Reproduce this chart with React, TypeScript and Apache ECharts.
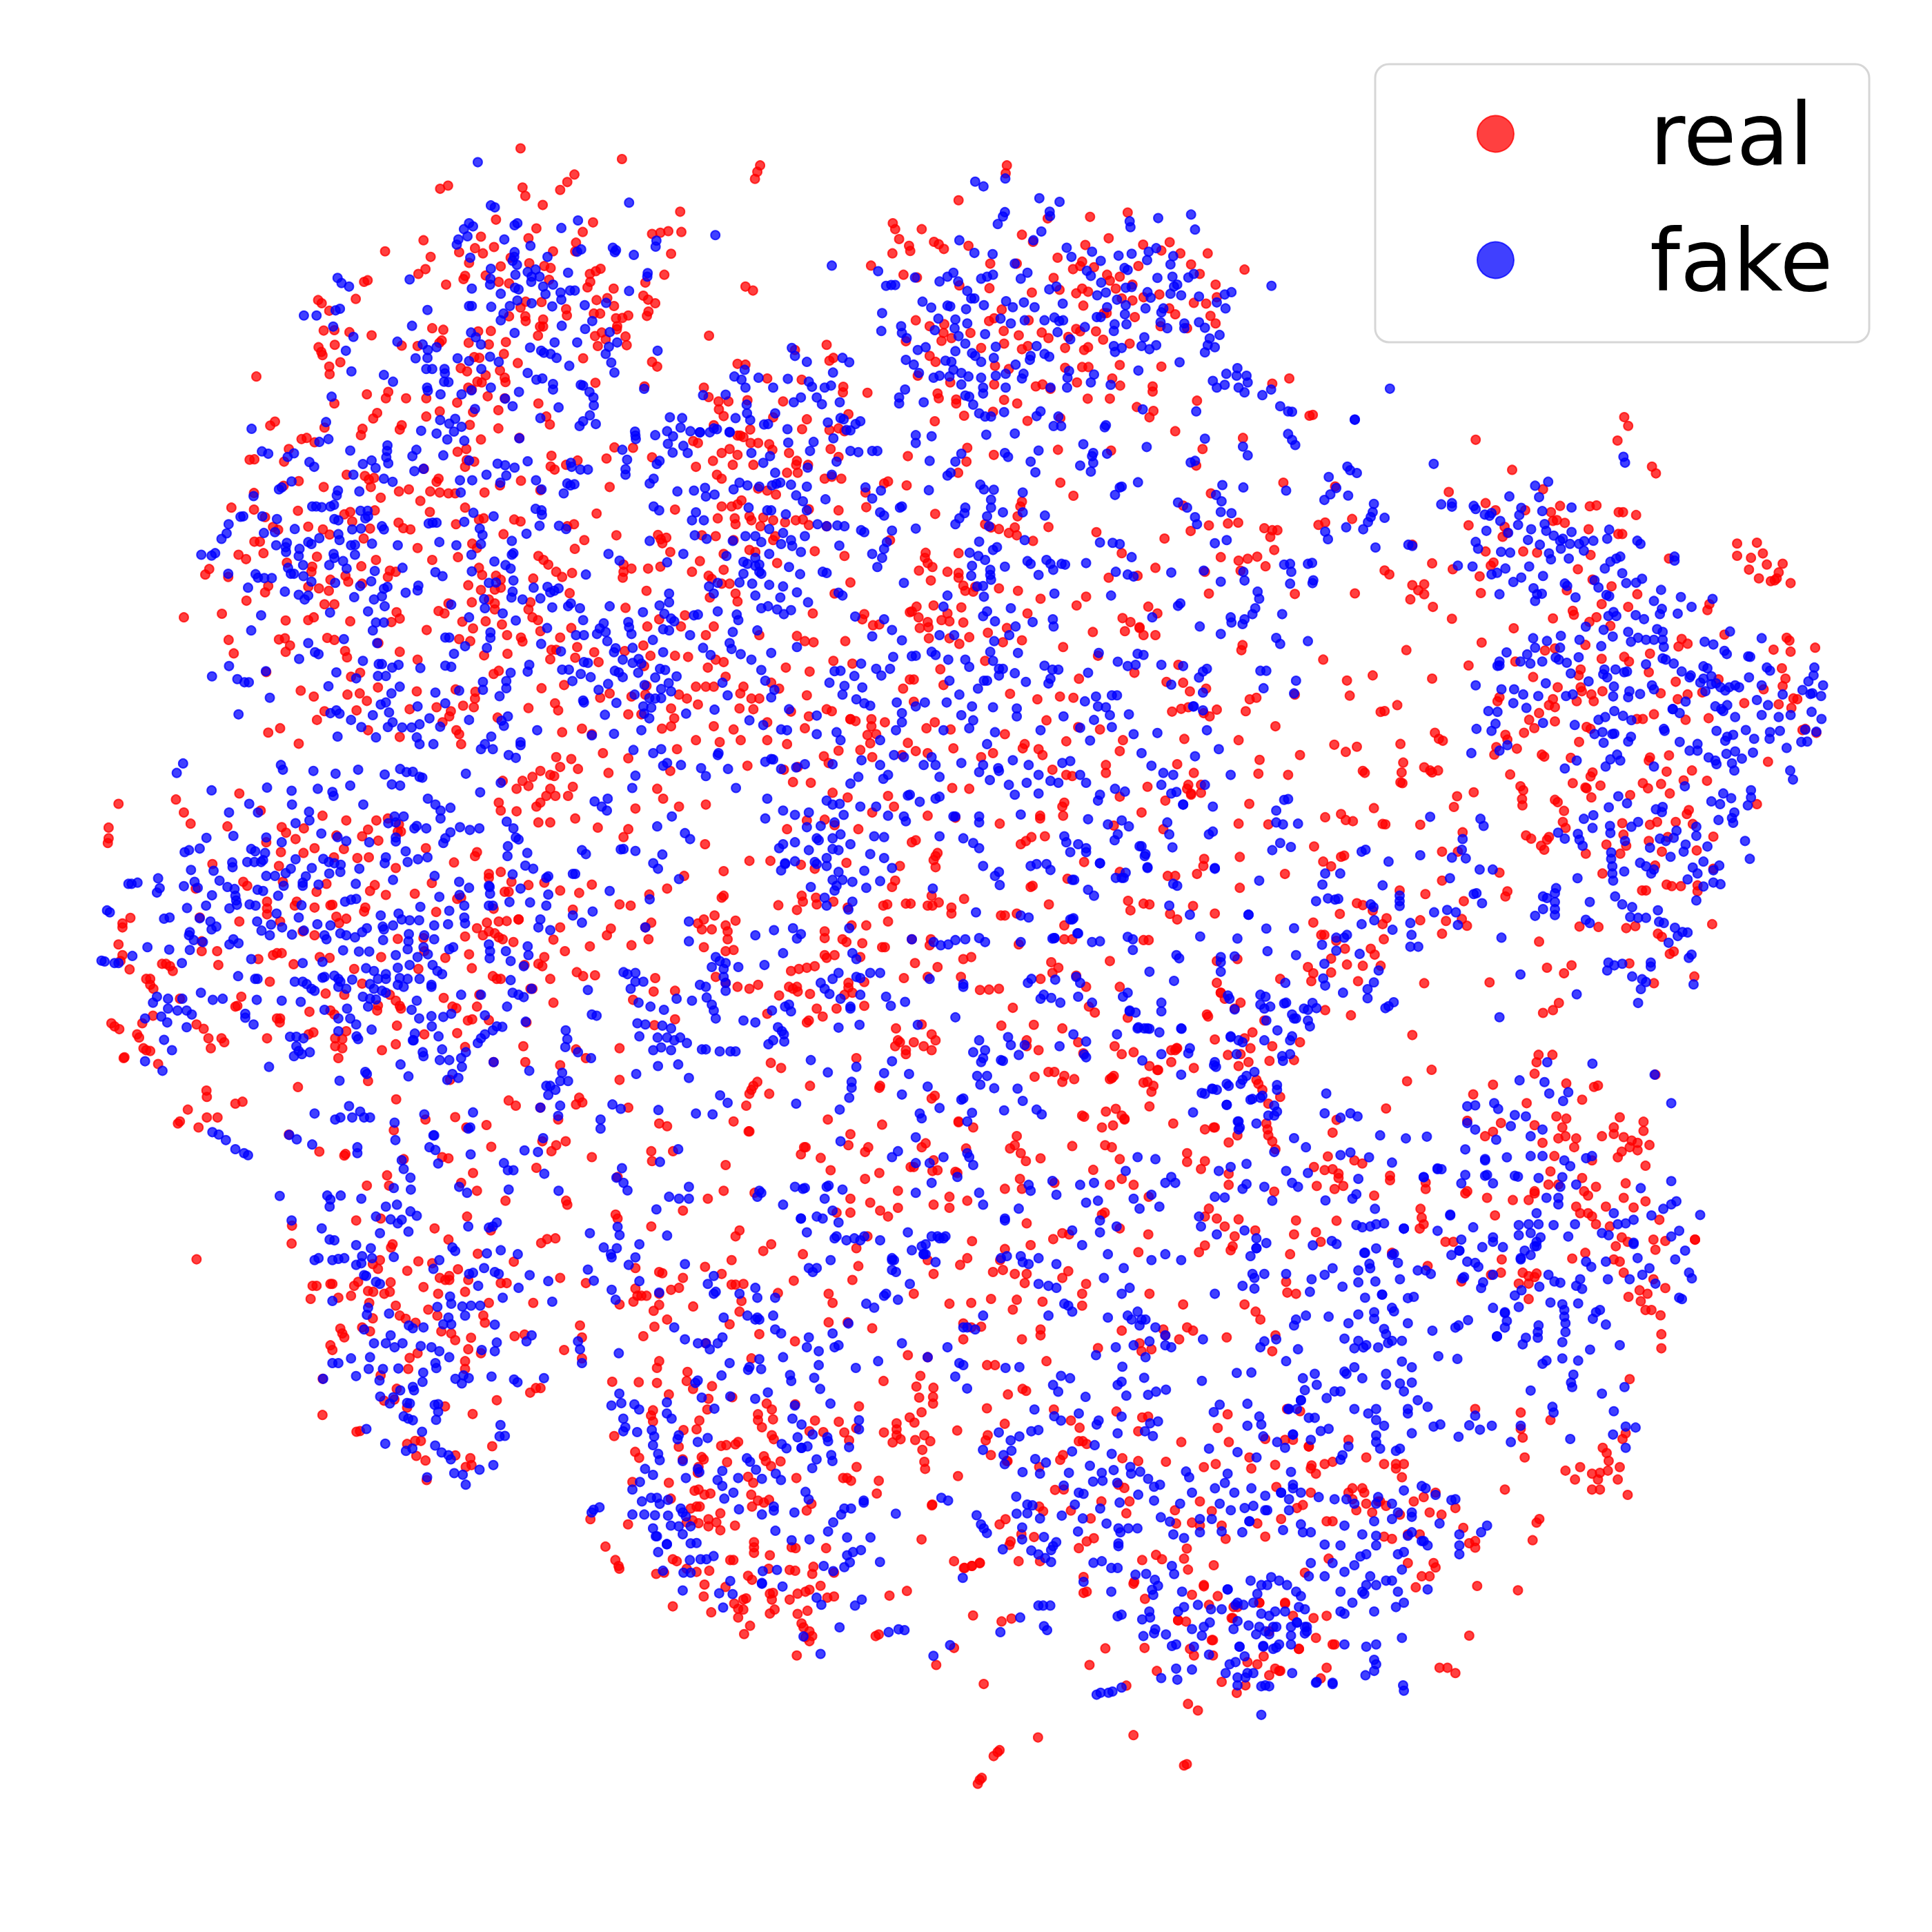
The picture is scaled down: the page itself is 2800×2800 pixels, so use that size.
import React, { useEffect, useRef } from "react";
import * as echarts from "echarts";

// Hand-read subset of the reference's dots. Each list is read off one enlarged crop of the
// picture, as flat x,y pairs in that crop's own units; see cropFrames for how they line up.
const realA = [1140,61,1396,88,937,163,957,155,1145,160,1152,181,1258,146,1276,127,1240,166,1196,204,1543,221,1078,241,1323,248,1180,263,1472,277,1493,274,1513,270,1546,272,1297,272,1040,284,1160,288,895,293,1280,299,798,321,913,335,1073,310,1025,313,985,323,1045,326,1222,321,1278,321,1520,327,1010,350,1115,337,1162,351,1090,359,1200,358,1216,363,900,366,882,378,1052,382,1000,383,996,391,745,398,754,394,952,405,1085,398,1111,402,1342,365,1330,371,1315,378,1316,398,1309,412,1375,415,1503,380,1455,400,1212,393,629,444,638,452,724,441,657,471,1450,433,1462,443,1480,452,1332,444,1359,439,1376,459,1193,449,1153,448,1140,463,1255,467,1257,483,1325,478,1341,478,1152,485,1153,497,1197,493,1111,485,1463,473,1459,484,1412,483,1397,489,1381,490,1384,510,1383,518,1189,511,1197,511,1184,534,643,521,670,520,708,525,764,533,917,515,945,519,1033,523,1065,522,1328,535,1345,526,1355,543,1335,560,1405,536,1408,558,935,552,941,546,880,560,840,559,1009,552,1060,556,1103,550,630,563,637,575,640,583,671,557,685,601,657,612,658,631,1023,588,1036,590,1098,580,1133,603,1298,591,1472,600,1485,612,989,616,1005,624,1088,622,1100,640,1052,634,1102,651,1031,650,1042,652,1008,665,1017,670,1329,653,1453,662,473,637,806,676,752,682,800,692,851,692,902,692,1057,687,1100,692,670,705,980,703,1185,705,778,729,768,743,936,725,902,738,1084,722,1020,727,1205,738,1214,758,1012,759,1084,768,520,751,508,761,840,760,835,771,741,769,737,785,645,766,587,795,600,792,620,803,1040,796,555,820,981,827,1003,820,1137,792,1377,816,1424,817,1218,837,1472,841,1023,852,1004,848,1000,865,456,847,468,846,543,852,1284,849,1357,844,1216,864,1226,872,1255,860,896,870,701,885,747,888,770,893,757,897,933,895,928,903,580,901,542,913,643,916,762,916,1141,900,1365,916,1088,912,1190,924,467,931,858,922,833,927,912,927,936,930,958,932,975,932,1049,930,887,951,787,943,410,968,467,973,578,976,695,985,710,979,772,975,911,979,1000,968,1332,983,1530,973,495,992,715,1003,1047,995,1035,998,1124,998,1140,1003,1275,1010,1258,1015,515,1017,528,1024,604,1016,641,1023,760,1021,832,1006,844,1020,862,1023,977,1010,1382,1038,1097,1035,1487,1037,1494,1048,1508,1044,658,1036,744,1046,468,1054,482,1054,1301,1050,1277,1072,1018,1059,1498,1058,428,1087,447,1098,491,1083,626,1092,880,1070,1030,1070,1518,1080,917,1100,982,1093,775,1100,1185,1090,1198,1100,1210,1112,1400,1112,1420,1122,1462,1122,1493,1117,1400,1130,1398,1145,1230,1130,1245,1143,1270,1133,1172,1147,354,1123,344,1137,402,1143,550,1107,614,1117,612,1130,738,1116,810,1127,825,1130,805,1143,1035,1120,1043,1138,1078,1140,1090,1150,698,1140,660,1150,705,1155,740,1160,1008,1164,1040,1176,1075,1175,1090,1170,604,1168,631,1172,656,1178,495,1182,503,1166,448,1203,1264,1184,1458,1178,1060,1200,1075,1210,1017,1207,670,1212,645,1212,958,1210,1165,1207,1160,1225,1075,1225,1405,1221,290,1245,386,1236,547,1253,604,1252,618,1245,710,1255,827,1232,835,1248,933,1229,948,1235,993,1256,1052,1255,1170,1245,1184,1252,1490,1250,1555,1240,1093,1263,1020,1273,1190,1280,1268,1272,1240,1296,1460,1268,1545,1268,903,1277,814,1257,1141,1296,1145,1306,985,1300,1013,1305,1106,1290,403,1302,530,1301,545,1298,558,1316,652,1297,670,1302,781,1310,1450,1316,416,1336,547,1332,697,1330,835,1332,702,1346,880,1352,1048,1341,1107,1337,1218,1327,1230,1327,1283,1320,1278,1347,1215,1351,1326,1333,1337,1358,1403,1330,1468,1342,1530,1342,1563,1345,1085,1380,1072,1388,735,1385,712,1395,498,1383,1452,1368,1458,1418,1193,1424,1250,1416,780,1422,585,1430,618,1445,703,1440,734,1437,878,1432,976,1427,1026,1433,1025,1450,752,1456,1341,1448,1365,1437,1420,1445,1455,1440,1540,1440,1560,1450,1227,1462,1160,1474,1235,1480,995,1468,1022,1472,860,1477,928,1472,964,1482,645,1482,726,1480,1412,1490,1445,1490,1520,1475,1528,1500,626,1504,1082,1498,943,1510,960,1495,533,1525,503,1536,1245,1535,1295,1526,1497,1526,1520,1520,978,1530,985,1540,755,1530,835,1547,580,1564,990,1565,1320,1540];
const fakeA = [1032,96,1065,205,1075,210,1414,198,1010,250,1020,258,997,265,1125,255,1132,250,1243,262,1285,243,1006,283,983,291,979,304,1099,291,1165,307,1373,312,1381,318,1378,323,1483,294,1481,309,1426,330,1293,316,1283,322,1125,323,1124,335,1013,337,1208,335,1120,345,1131,355,1065,365,1158,373,1178,367,1168,385,1127,380,1188,385,1260,375,1461,376,1460,385,1064,390,1063,405,1017,415,1167,398,1197,410,1222,405,860,392,678,388,688,401,707,410,1126,413,1135,417,1090,428,1203,429,1241,425,1265,420,1277,420,1414,421,1243,443,1132,445,1168,452,1356,451,1220,460,1302,457,1010,459,1017,459,1066,461,1113,459,905,469,1097,478,1090,495,1321,497,1244,509,684,466,673,470,593,483,625,483,667,511,1303,517,866,509,718,537,1015,526,1027,538,1125,527,1365,525,1363,562,1384,551,829,549,893,556,1040,556,1226,551,1283,551,906,570,928,563,1164,564,1192,572,1199,577,1216,580,1231,590,699,572,875,591,905,590,981,591,1010,598,1063,587,1085,600,1355,580,1369,602,1486,572,1263,610,713,624,902,618,917,618,948,618,949,629,947,650,958,651,1041,618,795,633,818,650,1158,628,1180,645,1195,642,1377,627,1065,665,904,665,906,673,1222,656,1222,670,1292,658,1298,660,1016,672,1136,676,938,682,991,682,1314,676,1324,690,1452,668,663,688,1101,693,1325,710,1120,712,1236,715,1025,719,937,747,649,752,960,756,975,744,991,764,972,776,1315,735,1298,750,1289,762,1330,757,1190,742,889,774,928,781,955,796,998,799,461,769,655,795,632,802,1137,793,804,811,803,825,801,841,806,856,877,822,867,838,945,836,710,824,487,826,503,832,568,831,552,840,607,853,619,865,764,849,742,858,774,868,1010,849,1082,857,1101,861,1125,867,1158,851,1267,855,1269,865,1291,872,1310,872,1409,847,1405,871,1405,885,1484,858,1491,850,872,876,895,870,718,885,795,895,817,903,1054,885,1104,887,1089,905,987,899,1018,899,1179,899,1193,922,1258,907,1276,909,1266,912,1476,895,1466,907,562,902,530,922,537,917,679,925,676,937,733,927,989,930,1249,932,1536,927,466,939,1548,742,1517,740,1510,775,1544,766,1429,776,1430,786,1431,795,1480,785,1525,788,1512,807,1551,812,1562,830,1524,829,1397,822,614,965,624,965,638,967,660,965,669,961,736,976,754,976,748,995,755,990,1178,971,1193,975,1194,986,1021,981,433,991,440,990,488,990,525,997,670,997,680,1000,1072,990,1476,965,1490,975,403,1010,398,1033,385,1047,570,1022,918,1006,908,1008,928,1006,998,1004,1188,1014,1237,1014,1255,1022,492,1032,520,1030,632,1045,715,1023,737,1021,795,1023,790,1015,1037,1021,1044,1037,1155,1034,680,1035,683,1050,550,1057,523,1063,547,1068,548,1080,604,1055,612,1060,712,1063,722,1062,765,1059,830,1063,935,1055,978,1063,1040,1060,1118,1052,1466,1052,1362,1085,334,1087,360,1089,369,1083,582,1072,580,1090,668,1085,722,1087,1016,1087,1122,1083,1118,1087,1551,1085,657,1113,670,1095,692,1103,1390,1102,1510,1106,591,1113,553,1120,701,1122,842,1120,1074,1104,1102,1113,1115,1122,560,1135,1017,1129,772,1128,925,1131,943,1141,402,1135,471,1136,477,1145,493,1146,512,1146,568,1135,592,1141,1305,1137,612,1155,672,1158,763,1154,1060,1158,1078,1157,1122,1152,452,1170,545,1180,804,1168,882,1165,880,1177,850,1183,1173,1170,1120,1180,1208,1168,1215,1182,1225,1178,1236,1172,580,1188,604,1190,595,1200,720,1194,735,1166,1515,1185,795,1173,790,1192,770,1200,1048,1199,1117,1195,1190,1197,1145,1200,1515,1207,797,1217,1365,1217,1491,1215,1449,1232,1260,1217,1267,1210,1290,1222,1220,1220,755,1230,659,1233,485,1240,965,1213,1050,1222,1095,1235,1128,1253,1010,1245,1503,1236,1520,1248,1528,1255,1298,1252,1350,1260,1412,1257,1414,1270,460,1278,775,1258,795,1258,767,1278,1064,1283,1064,1297,1207,1272,1340,1273,1333,1287,1355,1282,1515,1278,1500,1275,1420,1287,1300,1290,1280,1290,950,1296,960,1296,1474,1302,604,1310,694,1300,778,1310,1359,1305,1000,1318,1055,1322,1192,1312,1380,1323,1423,1322,1438,1350,1376,1333,1500,1333,1242,1331,1568,1290,621,1333,630,1338,972,1337,1300,1358,1310,1360,1398,1352,1423,1360,1445,1362,581,1350,742,1355,782,1363,790,1363,832,1365,950,1367,965,1370,887,1373,1162,1365,1158,1382,404,1368,1245,1377,1262,1377,1292,1388,1505,1378,1492,1375,1378,1380,1388,1384,1437,1385,497,1381,675,1384,780,1393,800,1393,816,1372,1115,1385,1317,1396,1398,1396,1534,1394,361,1394,425,1401,443,1409,454,1409,725,1399,1045,1408,1104,1406,1271,1406,1480,1397,1361,1413,1514,1411,1453,1416,655,1419,835,1420,1104,1424,1045,1428,1495,1426,1337,1428,814,1437,925,1435,985,1430,1520,1432,1087,1444,1428,1440,1465,1449,1495,1449,1480,1450,507,1448,950,1462,1298,1455,1300,1460,1382,1461,800,1460,787,1465,880,1470,1450,1470,1470,1473,675,1480,660,1487,683,1488,808,1485,767,1492,428,1490,1353,1491,1108,1495,910,1500,1452,1488,1465,1500,712,1504,1010,1504,1558,1488,1092,1506,1098,1519,817,1510,885,1515,805,1522,841,1523,865,1523,738,1522,937,1521,1182,1530,1376,1539,1445,1530,678,1546,775,1548,878,1548,1066,1546,1320,1543,885,1565,920,1565,1140,1560,1050,1565];
const realB = [177,104,170,120,164,138,800,104,797,124,678,192,140,410,159,420,48,534,512,250,518,265,528,290,585,265,616,297,628,303,641,315,553,307,556,320,511,326,457,357,539,380,1105,223,1010,234,903,238,838,279,866,297,703,307,1057,288,998,305,1144,304,1211,298,1190,319,1238,326,1307,326,928,337,990,347,1020,361,967,366,1265,354,985,358,825,352,758,352,1132,358,1053,380,1085,385,1400,367,573,387,918,388,1287,378,1060,395,1327,405,680,407,756,414,990,415,1005,423,975,427,933,418,863,425,1117,405,1075,415,1090,440,1117,445,1145,437,1185,430,1330,437,1272,451,1303,453,993,458,787,468,1210,465,1225,480,1314,484,1052,477,1123,487,570,495,755,497,768,490,855,495,1045,477,605,510,1327,503,1188,510,642,505,1255,515,640,527,635,547,660,540,708,527,792,522,830,533,975,517,985,523,1025,523,888,526,905,540,955,537,1043,544,1110,554,545,548,793,554,735,565,838,568,853,560,947,565,995,570,1005,563,345,557,265,570,120,605,140,607,352,597,362,590,605,585,620,600,770,610,805,618,947,615,990,613,1006,613,1085,608,1190,612,195,642,282,645,575,635,657,652,768,657,873,662,890,657,910,668,977,652,1066,642,1086,660,1168,662,1168,675,1470,655,1513,642,35,665,47,689,387,663,386,677,448,678,625,680,628,692,672,695,672,705,793,696,826,705,1004,693,1060,693,1280,698,1128,714,1170,724,1160,740,72,700,97,700,145,697,73,720,235,700,85,737,60,760,400,732,618,750,692,736,765,726,852,749,935,742,1225,775,1564,736,210,740,295,745,283,770,352,772,375,768,127,786,152,771,120,786,135,790,390,775,8,800,153,805,172,805,200,808,20,805,208,822,700,817,550,838,767,835,698,852,1063,824,929,822,1294,820,1396,792,355,820,375,840,80,830,100,820,120,835,58,850,108,860,160,860,250,830,270,850,268,860,298,860,245,880,272,880,15,865,340,895,358,890,382,895,68,885,80,895,677,880,1278,862,935,905,968,938,1498,905,490,907,500,902,547,912,172,920,217,935,443,930,445,967,1315,932,195,925,80,965,105,965,120,960,130,950,155,1000,150,990,300,972,375,975,619,984,838,953,834,965,827,990,1245,963,70,995,113,995,115,1010,185,993,210,1000,240,1005,267,1000,285,998,300,1012,345,1015,178,1015,30,1038,65,1040,110,1050,215,1040,210,1050,745,1010,760,1018,780,1022,805,1032,825,1038,820,1018,866,1052,905,1017,1026,1030,1198,1046,1264,1027,1310,1013,1358,1008,1384,1006,1450,1020,1470,1025,1483,1025,1465,1042,150,1075,165,1080,85,1085,25,1103,5,1130,220,1108,315,1078,390,1090,505,1050,595,1082,593,1095,600,1108,612,1118,678,1083,1090,1083,1175,1120,1340,1093,1385,1102,1408,1097,1432,1092,1453,1116,1475,1075,85,1125,47,1140,55,1148,80,1160,100,1160,578,1127,650,1130,678,1133,678,1145,690,1165,715,1180,608,1152,1057,1145,1130,1140,1300,1130,1390,1127,405,1157,115,1185,50,1195,695,1178,720,1168,780,1172,828,1178,885,1198,1000,1193,1310,1185,1527,1186,365,1185,120,1205,310,1235,560,1230,572,1218,615,1215,555,1232,577,1245,600,1257,602,1270,635,1252,650,1235,655,1255,690,1258,685,1220,852,1235,976,1215,1092,1247,1112,1257,1135,1270,1157,1218,1180,1235,440,1237,435,1250,462,1265,478,1263,40,1290,60,1268,175,1290,270,1292,290,1305,312,1308,392,1305,580,1272,603,1298,655,1298,680,1312,705,1295,752,1284,790,1308,838,1303,800,1272,1017,1282,1098,1280,1135,1272,1145,1290,1175,1290,942,1320,1395,1315,1392,1328,45,1372,65,1352,85,1358,242,1372,302,1382,362,1355,410,1362,632,1376,745,1355,1030,1342,1233,1365,1122,1385,15,1420,40,1420,60,1420,90,1395,135,1420,127,1437,155,1450,175,1450,205,1410,225,1425,295,1442,640,1416,538,1425,555,1402,565,1402,808,1438,877,1452,934,1445,968,1448,982,1400,1203,1408,1245,1410,1303,1425,1262,1432,1413,1452,1430,1448,1527,1440,20,1465,125,1475,160,1477,345,1477,358,1482,300,1495,405,1502,418,1507,458,1502,492,1510,458,1520,565,1458,618,1510,1217,1483,1240,1476,1258,1472,1330,1478,1297,1487,1312,1495,60,1520,110,1528,195,1510,255,1483,290,1525,405,1502,448,1542,470,1540,597,1525,658,1528,795,1540,900,1505,980,1522,1035,1528,1403,1482,1478,1520,1093,1555,1248,1552,1385,1555,15,1555,75,1560,128,1555,195,1555,245,1565,455,1563,550,1562,845,1565,950,1558];
const fakeB = [64,280,358,357,720,145,741,157,796,137,882,187,933,196,908,221,909,232,795,222,790,233,777,252,887,271,1110,245,1112,260,1182,237,1265,228,1275,266,867,293,680,293,718,325,764,328,951,312,963,335,1015,322,1037,345,1082,332,1115,327,1154,343,1158,322,1177,313,1220,333,1213,354,820,352,852,375,475,371,665,375,650,385,630,397,677,397,568,387,735,390,750,385,765,380,835,390,1002,370,1012,383,1097,363,1105,368,1180,388,1218,385,1258,387,1272,378,1230,405,495,408,508,406,518,406,700,421,907,417,925,410,1038,400,1028,432,1050,425,1100,413,1115,411,1155,424,1163,438,1213,428,1222,410,1240,432,1285,435,1330,450,1350,430,1367,424,1352,465,1468,408,710,440,718,440,1078,443,587,448,609,463,650,458,657,460,697,467,742,457,798,447,843,450,815,462,870,462,941,453,1150,465,1100,457,1195,465,1190,475,1053,462,485,477,627,491,784,491,670,493,700,503,810,503,845,495,895,495,920,488,932,497,942,495,1027,487,1037,487,1188,500,1098,480,1072,505,1102,505,1205,515,1248,503,1248,515,1285,500,1300,514,618,520,668,515,678,535,745,530,483,522,533,510,535,527,547,540,997,512,1070,522,928,525,1337,532,960,543,1312,541,1147,538,575,570,595,563,695,554,772,562,712,578,720,585,875,560,860,585,895,580,907,587,1073,575,1090,565,1140,560,1160,568,1177,558,1070,560,1307,558,1300,576,1325,563,670,573,660,600,735,600,767,590,645,597,858,595,545,595,565,607,578,628,665,620,685,628,703,637,822,607,1236,601,1132,622,1354,630,1382,616,1320,648,1380,635,1405,635,1408,652,1330,665,1350,658,1385,665,1400,677,630,635,615,640,655,637,772,635,735,640,797,630,842,630,838,642,957,623,1020,632,953,640,952,665,1012,652,1062,658,257,565,265,585,295,600,385,590,402,601,361,627,685,657,740,665,797,665,910,665,543,670,705,688,740,680,695,685,528,690,528,705,590,702,715,708,730,730,760,738,745,738,793,727,1445,684,1467,670,138,620,112,637,173,640,130,645,140,665,210,665,247,643,300,650,308,663,340,665,356,660,33,684,90,683,280,690,320,690,262,702,333,707,378,702,143,708,215,730,144,730,115,742,152,747,68,770,25,778,100,777,187,758,197,757,246,770,348,753,380,742,388,745,430,750,418,757,405,773,395,772,362,793,303,825,312,802,248,804,155,830,185,855,202,838,370,852,358,885,297,867,1490,712,1520,726,1510,725,1143,720,1278,725,875,737,885,725,930,738,918,762,937,762,1050,760,1047,765,570,785,610,788,570,805,748,784,820,781,1510,782,1520,797,1528,810,1300,794,993,808,795,830,803,840,605,850,685,832,670,852,860,852,880,824,1153,815,1018,830,1015,838,1018,855,985,862,1012,877,1053,832,1396,814,1408,836,1264,854,1275,850,872,879,650,887,658,880,1,775,25,778,50,778,100,778,60,768,405,825,425,828,460,825,473,825,215,880,125,905,145,912,175,915,207,912,218,908,228,905,255,910,10,925,38,918,62,935,110,922,295,915,1085,917,1090,915,1131,904,1344,911,1397,917,1505,925,443,917,603,924,733,910,742,922,767,923,1073,936,1328,936,1342,952,40,940,460,945,482,925,840,930,268,937,285,952,342,947,148,968,535,965,530,968,760,948,760,968,695,968,693,982,1232,955,1255,968,1340,979,1367,982,1275,992,1280,1010,15,980,35,1000,5,1000,205,975,195,975,242,985,295,975,480,980,490,988,680,995,670,1010,790,980,840,980,896,988,750,990,755,1015,440,1030,432,1025,510,1026,570,1021,322,1010,345,1015,372,1013,390,1015,140,1040,165,1040,200,1022,235,1032,255,1050,290,1040,12,1038,42,1047,108,1052,180,1055,230,1060,258,1065,377,1064,497,1055,490,1072,845,1050,1035,1056,1067,1057,1085,1060,1355,1050,1325,1058,730,1054,765,1075,775,1068,92,1090,200,1085,280,1080,165,1095,175,1112,460,1085,485,1095,473,1118,706,1082,728,1090,745,1100,758,1125,712,1115,795,1117,852,1103,860,1110,900,1100,910,1110,917,1125,938,1110,947,1112,880,1138,1000,1108,1115,1093,1500,1112,1515,1110,1560,1110,135,1105,145,1110,165,1115,175,1130,180,1135,135,1135,125,1157,157,1160,278,1136,335,1130,345,1133,250,1118,710,1140,758,1138,760,1150,725,1167,740,1166,742,1193,1075,1130,1105,1137,1120,1142,1215,1132,1297,1127,1340,1155,1400,1152,1515,1160,1518,1130,1397,1130,48,1167,70,1158,60,1185,200,1163,235,1167,270,1182,165,1190,228,1195,540,1158,640,1218,375,1183,385,1190,920,1185,1063,1190,1433,1180,1437,1198,1238,1210,1232,1216,180,1222,197,1217,220,1225,237,1237,255,1227,298,1207,10,1240,20,1238,70,1230,118,1238,122,1252,417,1243,490,1250,650,1190,740,1242,770,1255,750,1230,810,1222,865,1257,916,1250,918,1268,1167,1245,1365,1245,1367,1258,1395,1262,1400,1250,1427,1222,1420,1237,1495,1237,108,1282,170,1278,510,1277,460,1293,630,1290,667,1290,822,1268,806,1290,1340,1287,1287,1268,535,1303,768,1305,100,1310,105,1325,128,1338,33,1322,52,1340,155,1352,205,1335,270,1320,570,1342,560,1343,513,1345,610,1332,620,1340,652,1352,758,1332,828,1335,1032,1335,1130,1337,1145,1340,1480,1297,1490,1312,1560,1305,180,1378,380,1380,365,1381,432,1362,415,1393,470,1375,505,1375,695,1352,705,1370,765,1355,780,1375,790,1375,820,1386,780,1392,895,1367,915,1377,930,1377,1005,1385,1080,1357,1105,1368,1125,1365,1190,1365,1245,1368,1305,1375,1285,1397,1295,1382,1440,1380,1455,1380,82,1410,190,1405,213,1428,205,1447,352,1410,390,1418,435,1422,483,1392,655,1405,727,1425,742,1405,750,1405,848,1408,905,1412,910,1400,1215,1415,1530,1405,1448,1424,1295,1435,1525,1437,62,1478,95,1442,250,1477,385,1440,420,1452,440,1462,455,1468,522,1460,593,1460,570,1470,648,1460,680,1440,712,1470,765,1472,825,1475,997,1457,1025,1445,1065,1442,1078,1442,1030,1470,1050,1472,1270,1470,1295,1480,1108,1490,535,1487,150,1505,185,1517,230,1528,320,1493,535,1510,685,1492,715,1505,825,1495,943,1495,1020,1504,1060,1492,1272,1470,320,1540,370,1535,380,1555,245,1530,520,1530,705,1525,770,1535,885,1530,985,1524,1065,1522,1120,1540,1180,1537,1305,1530,750,1565,480,1555,640,1530,1010,1556];
const realD = [590,65,948,67,965,8,975,30,682,141,1035,133,1045,150,235,183,522,197,760,190,615,225,640,243,715,243,803,232,878,233,895,231,951,248,962,248,995,255,780,248,795,268,815,275,785,270,572,281,210,274,193,280,278,265,55,288,68,292,87,295,70,309,663,285,670,300,658,310,875,291,950,303,960,303,1250,327,1300,325,1315,352,1250,358,710,347,745,350,615,347,635,375,628,383,880,356,1285,363,1325,380,1365,378,430,330,82,344,40,362,15,367,60,385,360,395,372,405,480,377,532,392,848,392,1078,365,1280,393,1355,400,1350,415,1345,420,1305,415,1335,422,1385,427,600,410,885,418,933,435,820,445,460,430,430,432,445,445,460,455,285,453,135,456,603,452,998,455,425,468,482,487,530,517,1175,495,1180,480,908,480,975,487,835,497,838,507,785,516,877,525,895,513,930,535,686,541,1110,568,1218,557,1125,580,1102,587,605,577,1375,565,1382,572,1342,595,1385,600,1447,590,415,596,205,620,137,630,765,597,790,592,867,583,965,613,977,625,1030,605,908,618,690,625,572,635,330,660,480,668,265,673,735,664,855,645,850,660,1027,652,1095,676,1363,642,1372,668,1317,695,1365,687,797,690,855,690,858,700,882,708,910,700,1057,705,1203,670,272,711,135,711,22,722,40,718,650,715,645,725,785,720,775,735,790,740,845,725,888,725,1125,708,1162,703,1100,720,1392,718,1402,720,1355,733,1387,742,1268,730,350,752,360,750,392,735,10,755,750,755,725,772,738,793,790,776,1040,758,1012,770,997,770,1120,772,1178,768,1415,798,1422,795,1450,805,83,788,870,790,880,795,712,805,665,810,670,822,487,805,497,820,507,825,163,833,233,835,262,853,290,840,400,833,150,858,642,841,637,860,694,845,851,828,757,860,763,865,830,868,1030,867,1027,875,1078,862,1328,878,44,873,40,908,305,901,310,906,407,880,403,905,400,930,405,932,460,892,475,900,480,905,495,900,116,912,835,932,870,945,885,905,880,915,905,938,867,943,1012,932,1025,945,1058,934,1072,903,1136,900,1174,926,1115,925,677,910,703,940,710,950,707,972,708,988,18,985,543,965,535,992,585,955,790,974,797,980,882,968,980,962,1080,958,1300,985,813,1002,210,1018,250,1010,262,1025,280,1028,333,995,65,1038,355,1035,362,1036,450,1037,810,1030,960,1033,1030,1037,1048,1030,1095,1030,1123,1010,1128,1000,1138,1035,817,1045,557,1056,717,1064,730,1072,775,1068,770,1075,755,1090,963,1062,970,1090,920,1087,1027,1078,1075,1068,1190,1067,120,1092,182,1092,505,1105,545,1105,763,1100,868,1110,955,1110,1043,1140,1148,1102,1060,1105,205,1130,225,1142,108,1162,250,1118,258,1115,650,1158,505,1178,910,1160,1190,1148,670,1205,665,1218,463,1212,1010,1203,1020,1203,1072,1188,1085,1192,1108,1192,1150,1190,1150,1205,398,1203,290,1235,305,1240,330,1254,247,1262,10,1260,143,1280,180,1284,355,1288,365,1273,450,1278,515,1280,560,1230,555,1275,568,1292,852,1294,900,1295,970,1298,993,1293,1187,1288,1050,1312,1060,1320,102,1310,200,1315,208,1315,505,1312,750,1332,238,1330,358,1326,325,1350,335,1365,260,1350,65,1357,10,1340,158,1380,225,1375,170,1397,180,1412,305,1393,350,1393,225,1410,265,1390,1080,1363,1090,1357,978,1387,770,1398,832,1392,813,1412,98,1420,150,1430,175,1432,293,1432,1142,1420,1040,1437,625,1435,45,1440,35,1467,460,1437,760,1512,785,1505,800,1487,210,1505,55,1527,430,1568,275,1518,25,1560];
const fakeD = [285,14,113,50,125,66,133,78,963,108,967,123,484,126,266,133,290,149,219,159,273,142,105,177,112,192,238,187,223,203,208,217,268,206,333,227,330,248,325,260,318,273,306,291,360,262,168,258,210,297,217,316,263,286,337,337,420,330,430,333,135,360,139,350,105,382,114,378,177,376,125,398,180,420,120,428,178,427,503,228,530,225,530,234,585,232,590,240,613,254,630,250,625,257,652,270,672,300,697,280,705,237,700,255,675,208,740,181,773,171,750,210,758,245,764,278,768,295,730,291,787,307,832,236,810,315,832,298,851,328,864,321,887,320,927,292,922,315,863,345,590,323,596,340,617,295,654,348,677,350,722,318,752,330,775,352,780,367,825,365,805,340,828,328,803,320,916,390,930,373,945,365,955,360,998,320,1006,328,1092,360,1092,370,665,390,725,385,582,385,545,383,630,405,644,401,705,413,760,409,685,424,815,428,821,434,960,402,890,420,900,438,970,427,995,426,1010,416,1058,444,650,455,736,440,745,455,757,454,740,472,842,463,920,457,927,460,1040,472,1108,462,1135,487,1188,467,1060,492,1100,504,994,508,1015,518,1055,505,938,500,925,510,945,510,868,537,913,545,936,562,975,550,982,575,1000,565,1020,570,1048,543,1062,550,1062,570,1065,588,1040,570,735,566,770,573,805,560,852,570,740,590,720,607,907,586,803,590,1168,575,1190,582,1232,549,1218,598,1224,606,1278,612,1283,613,1312,566,850,614,792,615,800,620,820,628,758,625,703,625,728,630,650,625,650,635,645,636,668,602,915,645,943,645,965,652,972,650,1020,632,1062,617,1070,620,1090,630,1110,650,1133,660,1165,637,1175,642,1185,662,1165,668,1157,678,1130,665,1185,682,1197,680,1208,690,1220,698,1230,690,1245,685,1255,690,1280,665,1325,640,1333,648,1445,640,1443,660,1430,675,1415,697,1467,685,1440,705,1435,707,1462,712,1312,685,912,657,922,665,830,655,875,675,767,680,687,695,655,695,710,708,748,712,685,730,718,742,818,712,835,708,937,713,939,688,978,700,975,715,1005,707,1035,685,1040,695,1088,745,1105,755,1120,726,1195,738,1215,750,1225,735,1245,765,1300,722,1328,735,1365,708,1355,765,1385,760,1438,752,1463,770,1312,760,1210,745,1170,700,590,685,622,750,645,752,640,782,630,800,592,795,760,780,840,785,900,772,917,765,940,750,962,762,983,773,1087,745,1065,795,1067,800,1105,828,1198,800,1220,825,1225,815,1240,810,1272,798,1358,800,1333,803,1332,820,1412,828,1422,797,1427,827,1450,802,1293,820,1130,850,1150,850,1150,833,1178,867,1195,875,1198,884,1223,858,1245,852,1262,870,1237,882,1243,900,1290,855,1375,843,1384,900,1391,923,975,827,982,815,913,830,890,808,910,803,935,808,940,807,650,850,670,836,579,856,815,895,845,875,918,890,930,872,947,860,955,875,1040,890,1118,940,950,965,972,983,1062,992,1060,1005,1045,998,1185,978,1207,985,1215,958,1235,970,1243,1006,1285,950,1285,968,1277,988,926,993,887,1013,863,1022,1203,1025,1237,1020,1240,1032,885,1045,798,1057,815,1072,848,1060,852,1075,860,1090,929,1040,930,1058,967,1078,983,1042,1000,1030,1055,1072,1070,1078,1090,1070,1097,1052,1147,1042,1147,1065,1030,1095,1120,1087,1082,1118,1115,1105,1175,1092,932,1107,932,1123,935,1142,935,1160,937,1178,965,1155,1005,1133,1020,1142,1040,1150,1033,1160,1138,1145,1150,1160,1125,1175,1165,1130,1205,1140,1190,1152,1165,1193,1190,1183,1208,1187,1270,1078,1282,1123,1147,1228,847,1172,793,1197,790,1210,770,1222,760,1218,790,1232,790,1250,790,1265,760,1250,740,1267,878,1232,868,1277,878,1285,942,1218,960,1238,985,1245,980,1270,1000,1272,1020,1272,1050,1253,1053,1282,1065,1285,1093,1297,1100,1318,1112,1308,1125,1309,1077,1335,1135,1365,1128,1373,925,1385,940,1392,960,1388,922,1405,1032,1385,1032,1395,985,1420,1010,1427,1020,1434,1007,1452,1000,1487,1140,1440,703,1415,845,1465,650,1523,425,1285,428,1315,425,1345,445,1345,655,1322,302,1288,334,1278,380,1302,355,1190,398,1216,398,1230,398,1242,485,1258,518,1252,540,1258,545,1290,585,1212,592,1210,606,1235,633,1150,600,1150,525,1172,530,1120,557,1073,555,1100,565,1122,450,1114,370,1130,302,1105,312,1100,475,1017,602,1022,610,1040,248,1160,210,1160,203,1188,187,1230,217,1223,235,1226,243,1224,325,1238,332,1245,238,1322,258,1322,265,1315,202,1340,208,1388,205,1425,210,1443,255,1461,297,1363,317,1452,317,1475,333,1435,345,1405,362,1500,370,1495,383,1485,238,1355,188,1500,178,1487,155,1480];
const realE = [125,148,100,208,100,235,98,247,270,137,290,170,307,198,400,205,430,122,484,165,537,207,548,221,572,237,498,245,535,270,592,272,620,260,530,305,593,210,640,178,700,190,776,190,805,185,833,200,838,218,830,218,740,230,755,213,675,228,781,241,694,262,757,283,728,285,669,283,1030,270,1025,280,901,260,972,296,825,310,362,300,1060,325,1060,335,1090,320,1117,345,916,348,1160,353,1200,347,1320,352,1553,330,1510,362,1100,370,1110,370,1288,373,1240,367,760,368,772,353,800,378,873,375,320,362,440,345,450,355,540,345,650,350,625,370,500,395,500,412,500,427,533,445,570,405,575,395,620,410,660,404,665,403,748,410,745,420,927,421,980,388,990,385,1390,402,1418,405,1465,377,1272,415,1072,413,1130,110,1135,440,155,436,135,460,135,450,330,435,430,445,675,433,682,449,700,438,1030,462,1055,448,1085,445,1105,444,1135,440,1060,470,1075,475,1095,490,1085,485,1122,497,1240,460,1368,463,1358,480,1470,448,1455,460,620,480,590,470,830,489,895,487,897,520,1000,483,1045,480,1223,491,1463,490,125,503,135,530,130,545,335,520,374,520,335,495,525,525,515,530,537,525,1420,505,1315,508,1252,520,1200,535,1010,528,1185,552,1195,558,1165,615,245,552,235,552,255,558,262,570,377,555,478,540,567,553,633,535,658,537,788,535,950,537,1017,563,1150,555,153,566,720,565,740,602,882,565,1070,583,1080,590,1090,590,1282,573,1298,583,1328,581,1215,590,1480,588,195,590,205,590,205,605,213,615,507,597,280,640,435,635,648,627,695,630,810,630,825,645,835,658,838,665,946,638,968,660,978,664,1036,630,1170,615,1223,650,1476,622,1530,620,1424,643,420,660,425,658,660,670,670,680,607,673,780,657,778,670,1030,660,107,702,115,710,127,717,185,702,212,683,533,690,525,690,532,700,1007,695,1018,692,1060,694,828,708,1155,700,1530,692,1478,707,322,705,340,716,352,740,385,740,358,765,392,750,172,730,177,738,188,765,205,772,195,770,500,740,617,725,605,730,690,742,700,722,672,760,690,765,672,740,1000,762,980,727,897,730,1390,765,1147,760,1280,768,1305,790,825,755,790,770,140,788,138,790,225,805,680,790,1152,800,1240,808,755,848,1072,800,578,863,962,845,1390,845,347,872,348,888,420,905,438,900,300,920,280,950,275,955,327,965,375,940,348,940,1110,897,1128,910,1280,907,1288,890,1296,902,1412,915,826,894,975,939,1510,962,1490,955,1190,915,900,945,1235,945,1003,965,1054,959,820,972,555,983,632,1026,695,1036,698,1032,1195,1000,1254,1000,1066,1014,1218,1025,1230,1010,1320,1040,1472,1050,1470,1025,1525,1025,942,1040,958,1043,845,1045,1020,1080,1180,1067,1385,1090,803,1086,990,1105,808,1112,752,1112,1030,1125,1102,1150,1255,1150,1258,1160,563,1213,725,1200,787,1195,923,1220,1005,1190,1380,1185,1385,1195,1470,1215,1550,1175,562,1258,817,1260,813,1268,958,1248,1192,1257,1207,1247,1228,1245,1065,1225,322,1298,1032,1284,1123,1304,785,1300,882,1303,917,1308,767,1310,780,1322,854,1327,1430,1320,960,1340,936,1345,982,1323,1490,1330,1498,1333,1550,1345,1240,1345,1305,1358,950,1350,960,1350,1090,1358,1105,1358,1008,1350,615,1365,625,1365,660,1360,665,1360,730,1355,720,1365,812,1356,895,1368,1000,1380,755,1378,768,1380,810,1380,796,1385,932,1385,712,1390,680,1395,610,1398,1172,1408,1430,1372,1435,1390,1445,1390,1458,1390,1490,1385,1520,1375,1540,1370,758,1408,825,1415,1060,1408,1390,1412,1425,1405,1490,1413,1476,1428,907,1425,930,1440,835,1440,850,1448,875,1458,1046,1440,1050,1458,1510,1450,767,1447,740,1470,1290,1465,1478,1468,685,1473,690,1485,695,1495,760,1480,940,1480,965,1485,975,1502,1015,1496,1125,1492,1150,1488,1450,1492,660,1515,665,1527,1250,1527,1295,1495,880,1535,860,1547,1040,1535,1008,1525,1000,1555,1295,1548,1490,1555,1145,90,1170,80,1160,103,1190,65,1215,75,1225,78,1205,128,1215,110,1230,30,1240,55,1268,35,1285,60,1362,70,1348,20,1412,33,1272,105,1228,128,1260,128,1095,90,1085,145,1090,165,1130,167,1180,155,1190,145,1185,195,1215,195,1278,185,1335,208,1485,110,1500,135,1540,155,1430,160,1518,65,1535,10,1412,212,1400,232];
const fakeE = [288,46,272,70,360,114,500,107,535,50,540,62,617,65,673,72,730,62,710,102,797,74,836,60,852,68,868,67,885,80,892,82,1002,72,1038,119,562,115,563,150,628,110,665,118,668,128,815,99,836,102,1090,95,906,135,925,150,938,165,963,158,743,150,455,148,477,170,404,170,606,168,607,190,572,197,938,185,902,210,878,204,872,210,822,180,845,180,806,197,825,195,1105,193,1122,210,1128,233,1135,238,987,207,1012,214,1036,210,963,220,950,235,945,247,637,223,678,232,825,233,825,243,758,245,700,242,537,245,498,233,415,229,347,234,460,262,470,268,495,272,490,290,485,295,468,295,450,295,412,296,330,261,303,265,292,270,308,315,365,317,413,308,572,288,560,312,547,323,642,287,656,295,670,298,686,302,613,310,685,320,657,324,598,331,498,330,520,330,797,298,800,283,850,268,855,295,881,288,905,283,733,312,1108,255,1107,280,1152,304,1172,312,1157,272,1295,265,1305,275,1393,263,1430,267,1498,276,1475,298,1487,312,1540,338,1555,222,1568,237,1210,331,1205,335,1272,325,1278,325,1120,326,923,330,818,340,724,350,542,355,630,352,590,355,590,347,380,342,400,358,418,363,420,380,422,392,476,365,490,368,225,336,229,361,222,372,150,350,158,350,173,347,290,356,317,345,325,360,361,379,346,405,298,411,405,412,424,403,456,402,471,405,528,380,587,404,697,395,712,390,725,388,935,383,887,408,960,418,986,378,998,405,985,345,1010,360,1062,358,1063,375,1060,405,1070,405,1060,355,1140,362,1112,396,1164,397,1205,405,1322,420,1365,368,1466,389,1400,262,1210,377,96,417,103,422,240,438,254,435,330,437,357,445,360,465,372,458,524,425,475,445,510,453,538,460,580,435,627,452,660,455,787,430,832,425,840,440,860,442,884,442,922,455,957,452,998,435,1000,450,1190,440,1272,430,1295,448,1185,460,1215,467,1455,460,486,468,507,480,563,478,593,468,645,480,650,490,685,475,700,480,722,485,740,472,752,462,792,458,795,465,818,455,305,472,303,480,315,492,338,497,415,490,405,503,428,500,198,510,253,516,305,517,793,492,858,477,857,495,897,480,922,490,855,515,895,510,960,515,970,510,1060,503,1063,520,1103,520,1158,508,1160,530,1062,538,1115,545,732,521,758,521,692,518,640,547,590,550,825,530,880,535,906,528,460,540,160,532,82,544,90,546,115,550,125,550,285,550,1148,558,590,597,570,597,600,603,612,615,620,620,685,597,670,582,680,590,700,615,715,592,750,563,770,570,780,590,800,578,800,590,830,562,860,555,835,588,855,590,885,590,918,555,930,570,942,578,915,605,1115,593,1400,573,1410,578,1430,575,1430,597,1450,597,1418,615,1310,618,427,583,470,590,476,590,645,585,640,587,333,625,363,643,388,640,250,640,286,640,222,635,212,650,474,643,537,645,585,648,680,610,760,603,770,615,790,620,800,625,830,605,845,610,878,645,915,610,742,635,760,640,755,660,775,642,1120,625,1135,630,1148,636,1168,615,1040,630,990,630,1534,640,1438,650,1468,660,1502,668,1565,445,1565,495,250,665,274,670,297,670,310,680,445,678,445,688,645,668,702,665,865,668,1106,660,1320,680,1332,683,1050,682,884,690,915,684,945,686,965,678,680,690,710,690,725,705,233,685,248,700,192,690,466,705,297,712,1153,698,1435,702,1455,705,1498,708,1520,715,1080,710,1094,711,1070,720,1050,730,1040,740,1032,752,916,710,873,728,726,735,764,718,680,722,730,742,558,736,574,736,592,740,574,760,580,772,568,785,608,775,588,780,933,735,240,744,1254,720,1258,742,1253,762,1285,775,1318,790,1440,735,1486,738,1510,738,1528,745,1543,738,1560,752,1475,770,1495,763,1520,770,870,745,868,745,893,775,895,785,942,768,936,795,960,795,990,790,1002,775,992,812,968,830,983,840,955,845,1072,800,1162,822,1245,827,1260,848,1240,848,1215,860,1205,860,1228,870,1210,883,1240,910,1190,915,1372,907,1393,918,1432,830,1538,806,1487,810,1565,840,837,806,505,812,260,770,192,798,236,822,748,825,752,830,683,847,857,836,620,930,707,911,735,925,685,940,672,945,715,940,745,940,760,940,897,932,1020,927,1342,945,1342,968,1235,936,1488,921,822,953,920,985,922,985,910,1015,925,1022,1008,968,1013,965,362,977,378,983,396,997,420,1020,442,1030,452,1035,556,984,575,995,614,1008,728,1015,728,1030,824,997,1014,1033,1150,1023,1184,1027,1197,992,1538,1020,1492,1052,840,1048,845,1070,862,1092,932,1056,1098,1055,1108,1073,1122,1073,1200,1082,1396,1068,1382,1092,1400,1105,1410,1124,863,1122,820,1118,985,1115,1005,1130,1110,1122,1236,1125,532,1138,652,1137,686,1137,660,1147,658,1165,738,1145,1515,1140,1540,1145,1565,1145,1565,1115,800,1165,828,1160,862,1177,878,1188,775,1190,812,1197,840,1198,830,1207,1483,1172,857,1228,785,1232,562,1200,638,1220,1008,1215,1060,1218,1070,1215,1080,1205,1385,1216,1390,1237,1315,1232,1510,1238,658,1248,670,1250,968,1268,975,1277,1055,1283,1090,1275,1133,1285,725,1262,762,1270,725,1312,738,1308,620,1300,630,1295,665,1300,695,1295,680,1297,740,1290,765,1295,820,1292,935,1300,1350,1268,1383,1270,1368,1285,1370,1293,1430,1293,1440,1260,1413,1312,1555,1310,920,1322,1010,1335,1048,1320,1075,1330,1085,1335,1020,1332,1163,1338,1310,1324,1325,1352,1440,1353,745,1338,750,1340,775,1355,785,1360,1210,1353,1135,1370,1033,1365,1380,1400,1370,1375,1490,1382,665,1403,755,1420,752,1438,808,1435,962,1392,930,1418,965,1410,993,1417,1015,1415,1038,1415,1095,1395,1220,1405,1000,1440,958,1445,945,1462,965,1462,858,1465,868,1472,895,1470,1075,1463,1285,1505,1168,1490,1155,1505,1555,1500,812,1490,800,1510,770,1510,842,1510,822,1520,888,1517,915,1520,935,1530,960,1545,1080,1508,1042,1527,1075,1530,745,1475,1290,1525,1295,1560,1388,1535,1528,1470,760,1545,712,1548,680,1560,665,1560,925,1560,1040,10,1070,10,1110,25,1128,32,1140,0,1425,12,1475,20,1495,10,1510,45,1500,52,1545,50,1430,77,1422,108,1327,142,1345,155,1360,135,1358,165,1522,180,1485,205];
const realF = [145,52,237,62,272,55,375,14,338,28,430,12,460,30,535,25,570,15,600,20,665,8,735,30,765,20,840,8,880,10,890,25,915,62,950,75,965,78,1050,50,1050,70,1085,15,1230,48,1272,70,1258,100,1265,122,1290,100,1438,37,1435,72,1510,75,1540,25,260,93,305,95,350,45,1155,105,1085,130,1200,140,1412,148,1140,170,1385,198,1388,282,705,110,662,108,600,178,360,120,398,132,500,128,515,155,460,170,295,190,245,212,340,188,365,202,425,212,40,150,782,198,670,183,1460,200,940,155,945,145,942,178,884,178,884,185,1290,120,1255,110,1265,125,1070,203,1195,212,835,250,848,242,862,232,896,230,560,245,570,240,620,280,625,272,615,290,620,308,530,305,38,250,85,318,150,292,203,292,280,302,395,297,315,312,80,385,85,380,995,295,1085,320,1298,287,1296,305,1280,325,1502,325,1388,360,865,355,953,337,1206,330,1225,330,510,358,518,342,1212,426,1230,440,362,395,398,410,285,395,282,380,318,385,320,402,270,416,223,404,488,405,498,402,545,400,557,400,600,405,610,380,612,405,628,397,692,388,660,425,660,410,785,430,795,430,825,425,860,358,906,402,1106,393,1145,400,1160,402,1270,406,1325,425,1112,417,35,440,62,430,90,455,115,443,20,450,30,465,55,465,95,470,95,490,35,510,90,520,110,517,90,600,65,585,120,610,150,615,172,605,500,445,445,455,340,470,340,487,385,490,395,497,435,500,485,510,1158,492,1145,492,945,490,965,490,830,503,710,535,608,490,605,505,340,530,365,530,345,537,430,535,255,570,275,565,295,562,315,558,270,610,260,615,250,610,272,622,225,632,303,628,400,600,400,612,410,625,390,630,440,598,440,658,320,665,370,665,335,685,195,678,300,695,295,700,568,550,540,588,625,560,600,585,690,540,684,585,912,548,915,575,930,562,885,590,975,582,1000,610,945,455,1060,545,1382,540,1330,545,1330,600,1340,625,1350,640,1375,665,1390,650,815,663,868,706,940,715,1007,660,1022,675,1105,688,1085,610,1308,685,1420,725,1305,680,1450,695,1490,590,1560,560,525,745,520,715,530,750,585,705,610,730,620,745,610,770,590,760,565,750,545,770,518,760,545,780,1070,835,1060,843,880,770,850,745,850,760,980,750,1072,760,993,778,1120,775,1215,770,1225,770,1230,765,1215,800,1272,815,1340,625,1400,740,1415,765,1470,760,1540,750,1385,810,420,790,204,802,230,815,170,850,160,860,155,870,150,880,200,880,303,860,905,825,1090,780,1160,810,1155,850,1170,860,1180,820,1145,852,1165,875,1160,912,1390,780,1430,845,1460,905,1490,888,1455,955,1458,970,1460,985,1470,1000,1478,1020,1435,855,1445,870,142,910,110,950,150,975,348,945,400,1010,442,1027,288,1015,280,1033,330,1042,1065,840,945,835,940,850,970,843,1050,925,870,837,920,825,480,860,478,865,618,885,610,892,450,1015,990,935,1040,965,1068,960,1090,935,1097,943,1075,918,820,1010,835,1030,885,1043,848,1050,1300,970,1325,965,1382,985,1360,1003,1300,1050,678,950,715,965,478,1080,442,1095,525,1125,585,1015,595,1005,565,1065,615,1048,612,1075,625,1073,670,1077,1065,1015,1085,1045,1255,1030,1255,1052,1290,1070,1360,1082,1360,1110,1475,1127,1018,1072,1060,1110,1090,1095,1120,1110,833,1095,795,1120,838,1120,920,1105,1158,1140,90,1060,45,1145,85,1125,405,1145,163,1130,355,1073,455,1155,480,1175,500,1190,655,1140,655,1168,615,1160,525,1168,700,1150,405,1180,370,1180,1047,1180,1040,1185,1085,1220,957,1235,850,1207,1157,1235,1310,1170,1300,1190,1330,1195,1350,1215,1375,1240,1370,1265,1385,1197,1427,1225,1530,1200,1525,1235,1285,1280,1300,1263,1365,1275,1515,1285,115,1240,125,1225,185,1277,205,1260,448,1240,420,1270,285,1285,105,1300,80,1335,262,1352,38,1317,712,1252,860,1262,917,1247,940,1232,1132,1280,600,1300,700,1295,783,1300,795,1272,682,1312,765,1330,790,1325,820,1335,850,1335,845,1358,940,1345,955,1328,1505,1355,1508,1382,1530,1385,615,1335,425,1315,410,1350,565,1385,222,1383,135,1360,105,1362,115,1362,350,1385,360,1408,8,1417,130,1403,125,1430,100,1462,175,1487,655,1410,710,1408,760,1398,825,1400,815,1425,890,1405,990,1385,990,1415,1000,1360,1160,1385,1245,1412,1270,1478,1400,1412,1428,1430,1440,1450,1478,1490,350,1457,398,1457,460,1472,265,1505,40,1510,155,1548,550,1540,600,1545,690,1460,710,1470,690,1500,735,1468,885,1475,885,1490,1090,1478,1030,1522,838,1500,1195,1475,1235,1500,1255,1470,1355,1495,1135,1510,1140,1530,1165,1525,1200,1490,1470,1530,750,1565,770,1565,900,1555,786,708,732,618,755,617,780,615,492,510,408,455,560,490,1325,743,1358,782,1525,795,1463,797,1410,800,1065,840,1228,765,1182,820,1220,955,1322,965,1097,945,995,938,1048,1010,965,1012,825,987,808,1018,697,1018,557,1065,675,1080,292,1015,405,982,485,958,148,975,678,952];
const fakeF = [70,25,28,58,40,78,96,60,116,108,72,20,210,36,190,42,290,48,360,48,433,38,480,50,515,25,500,75,425,80,230,60,268,56,405,97,488,85,550,127,580,143,630,130,630,80,620,50,610,30,540,30,590,50,685,45,740,50,730,68,757,88,778,58,815,38,855,50,880,75,940,45,960,40,985,75,1000,95,1030,140,1035,125,1073,110,1098,117,1140,20,1165,52,1275,28,1335,10,1195,70,1220,75,1228,118,1245,150,1300,100,1320,155,1365,75,1215,122,1245,150,910,90,930,95,805,100,820,125,850,95,880,122,835,175,730,180,730,195,670,180,555,125,620,135,665,180,780,65,1005,187,1055,200,1090,190,1108,205,1205,195,1210,225,1218,258,1320,218,1310,225,1325,310,1480,165,1500,138,1510,136,1480,195,1497,200,1535,198,1490,247,1470,265,1517,257,1190,100,1080,225,1072,240,1140,255,1148,280,1155,308,1035,298,950,245,1000,260,970,340,960,270,205,35,195,135,190,185,235,165,265,176,300,170,345,140,360,150,378,148,430,155,470,155,500,178,540,180,545,192,388,176,295,207,330,204,365,195,360,235,380,225,320,235,325,240,300,265,345,285,225,260,235,250,265,245,360,262,375,265,455,275,490,285,490,232,465,230,405,250,240,298,265,293,230,316,240,300,315,295,320,300,345,305,360,340,375,320,410,345,385,340,440,317,510,310,480,343,305,358,340,385,370,355,365,367,445,360,345,405,400,415,410,395,630,230,690,235,715,247,730,260,740,305,770,330,780,320,782,353,860,305,875,300,900,300,910,315,945,230,980,250,1000,270,1035,298,1100,322,1095,335,1090,335,1075,335,965,340,1005,365,1020,380,1135,255,1150,275,1155,310,1220,350,1230,355,1437,342,1325,312,613,362,722,422,835,430,855,435,1210,405,1262,428,1410,428,1410,428,965,440,980,475,920,487,885,640,935,650,980,635,1015,650,1110,670,1125,675,1130,715,1155,715,1185,725,1240,715,1365,737,1385,745,1450,745,1495,785,1515,780,1565,710,1520,735,1520,680,1505,650,1525,690,1550,665,1560,695,1325,800,1380,780,1395,750,1450,665,1440,630,1440,655,1330,870,1320,868,1300,880,1355,855,1355,908,1405,835,1425,825,1415,895,1440,890,1475,910,1460,935,1482,925,1385,950,1430,955,1385,970,1525,992,1555,1015,1475,1027,1560,1080,1335,1075,1365,1065,1405,1057,1505,1075,1520,1105,1535,1115,1405,1108,1450,1115,1395,1120,1325,1140,1350,1142,1285,1190,1290,1215,1330,1235,1400,1225,1430,1245,1430,1270,1455,1257,1470,1150,1430,1270,1415,1290,1420,1335,1425,1345,1450,1335,1505,1335,1395,1365,1425,1372,1530,1450,1555,1440,1450,1505,1480,1500,1525,1465,1535,1525,1565,1380,965,1225,990,1262,1035,1200,1077,1215,1030,1150,1000,1155,985,1110,1020,1105,1035,1230,1135,1170,1120,1145,1130,1040,1175,1045,1100,1075,1095,1320,1090,1385,1110,1370,1130,1430,1150,1450,1160,1505,1215,1090,1200,1105,1165,1135,1225,1105,1185,1165,1165,1300,1240,1300,1200,1285,1055,1285,1055,1445,1105,1440,1115,1450,1175,1470,1200,1490,1140,1450,1215,1520,1295,1500,1325,1385,1025,1540,1075,1520,1120,1515,1150,1545,1200,1515,1440,1520,1505,1555,925,1370,905,1365,880,1360,840,1305,855,1310,925,1310,945,1410,905,1440,955,1415,965,1430,1045,1345,1135,1465,835,1290,880,1295,800,1290,785,1295,690,1470,650,1520,720,1475,700,1470,740,1440,680,1560,690,1565,600,1545,535,1510,475,1555,365,1520,375,1515,325,1565,325,1530,295,1520,235,1545,175,1550,150,1570,175,1450,360,1485,300,1495,230,1485,215,1475,165,1450,85,1445,145,1440,170,1445,210,1440,60,1385,65,1380,45,1360,60,1340,125,1385,170,1395,165,1370,215,1395,100,1560,40,1510,70,1510,50,1525,20,1510,82,1495,400,1460,445,1410,465,1420,510,1295,510,1325,515,1300,520,1330,555,1360,590,1285,595,1260,630,1245,645,1240,590,1285,610,1240,550,1230,560,1275,490,1390,495,1385,585,1265,280,1195,320,1190,295,1230,375,1205,365,1245,395,1250,415,1245,440,1240,370,1240,335,1195,360,1175,430,1250,380,1000,280,1195,300,1320,355,1300,320,1320,310,1330,480,1250,510,1300,640,1245,625,1240,595,1285,525,1400,620,1305,170,1140,180,1130,175,1125,235,1160,265,1115,290,1118,345,1115,350,1112,385,1122,340,1145,285,1120,525,1025,510,1040,570,990,570,1055,605,1055,640,1040,610,1105,570,1130,675,1090,700,1030,705,1040,715,1060,730,1130,740,1160,795,1195,855,1110,860,1125,830,1170,795,1200,915,1100,925,1135,198,755,210,745,222,712,232,722,237,730,238,748,30,768,40,768,75,773,102,773,115,773,305,795,348,826,420,812,510,798,490,828,553,830,600,862,408,850,408,865,402,890,378,920,268,905,76,884,95,903,15,930,57,932,135,695,165,700,207,670,240,660,250,655,255,672,42,637,55,655,60,670,65,690,5,645,405,660,405,665,430,630,380,640,352,628,340,615,330,600,375,575,360,590,455,575,480,575,420,585,430,588,495,635,507,658,543,648,375,713,428,706,575,706,410,525,420,540,402,462,280,477,270,488,165,480,212,467,260,462,235,525,188,555,122,560,85,585,65,535,75,545,85,565,90,550,55,560,25,605,40,610,90,600,90,620,605,590,690,603,690,610,670,687,785,795,790,797,830,782,735,800,740,790,745,770,715,775,730,745,725,835,750,835,733,857,768,866,827,867,840,898,875,920,888,932,793,922,712,928,700,950,685,895,690,892,630,916,580,930,585,942,535,882,560,490,615,497,633,505,652,503,670,492,695,490,730,487,745,497,835,497,920,487,1015,497,1035,495,1105,484,1118,490,1118,517,1382,488,1228,530,1235,538,1340,535,1340,548,1340,572,1160,572,1222,595,1288,483,1375,533,1455,463,1525,462,1458,520,1530,530,1503,600,1453,635,1465,660,1375,667,1358,632,1362,640,1500,652,1530,690,1560,668,1483,720,1515,745,1455,695,1365,735,1497,797,1323,808,1328,812,1395,845,1390,855,1360,860,1318,867,1292,878,1482,858,1482,870,1445,885,1420,893,1355,908,1270,927,1383,950,1388,965,1475,935,1241,716,1160,716,1147,715,1132,712,1078,730,1142,796,1190,780,1240,832,1258,778,1262,765,1000,748,968,730,933,760,1000,788,995,781,803,737,810,757,845,757,915,488,978,475,968,437,960,440,985,600,975,585,893,630,912,638,1105,625,1093,635,1110,672,1190,650,1190,672,853,600,862,590,922,592];
const realG = [69,298,30,361,75,358,72,353,231,325,300,305,288,288,258,302,450,295,520,317,527,325,614,338,686,327,700,290,710,310,745,291,810,305,380,345,352,382,505,382,265,405,292,400,342,415,340,438,356,458,404,451,219,441,265,443,152,440,295,472,455,479,395,483,392,510,255,512,250,525,255,540,372,538,365,560,332,562,157,577,542,495,555,510,520,522,520,537,558,535,530,555,614,497,664,538,724,541,738,568,768,557,775,502,903,530,915,543,933,517,927,480,962,478,962,495,920,452,930,425,837,438,870,545,870,560,870,575,838,568,860,593,880,585,917,587,940,575,955,590,935,612,940,642,942,660,1023,563,1025,678,963,455,960,750,1098,507,1100,575,1095,588,1108,625,1143,546,1151,472,1188,458,1197,463,1267,510,1310,538,1332,556,1425,515,1505,528,1490,530,1480,565,1340,590,1350,597,1330,590,1440,633,1290,625,1283,637,1480,640,1550,642,1230,655,1150,640,1148,640,1430,700,1445,708,427,602,440,600,463,598,470,592,555,575,560,585,650,565,685,567,750,588,320,604,210,617,220,632,535,628,540,640,553,653,577,641,495,680,508,695,617,683,769,655,735,683,745,683,755,690,825,690,442,643,330,636,378,630,383,636,370,655,368,670,295,695,203,693,360,715,370,712,385,725,400,722,300,735,350,760,365,755,373,755,355,790,395,787,395,805,415,795,425,815,370,797,340,795,425,772,462,803,503,725,520,740,535,745,548,738,505,755,655,748,643,765,820,722,1270,713,1292,712,1310,765,1387,742,1458,742,1450,772,1360,785,1240,767,1230,755,1145,787,1185,825,1217,832,1158,843,1155,852,1330,860,1350,843,1368,835,1178,893,1232,893,1015,893,1040,910,1060,905,1080,898,959,752,933,838,692,860,615,860,605,858,510,845,510,858,510,872,550,878,450,890,458,890,305,888,315,893,397,917,340,912,365,920,263,925,283,922,160,890,168,905,170,912,135,856,192,800,97,787,1130,800,1342,933,1350,970,1342,973,1470,945,1468,950,1497,988,1525,877,1540,888,1490,890,547,912,600,915,614,917,660,907,657,925,712,922,495,930,505,940,385,952,438,958,383,982,305,1007,402,1022,460,1000,470,1013,490,987,483,990,470,1035,483,1015,500,1056,485,1077,550,975,558,973,555,990,600,990,620,975,640,970,650,965,678,955,695,985,712,982,645,1018,620,1026,630,1050,635,1060,650,1070,657,1082,650,1095,640,1085,618,1131,550,1025,562,1015,852,980,896,968,817,1082,825,1078,970,1155,1015,1112,1063,1030,1135,1045,1160,1038,1042,910,1060,905,1080,897,1397,1113,1357,1155,1450,1207,1527,1170,1496,1112,1227,1338,1468,1332,1090,1203,1125,1375,1115,1385,1130,1370,1075,1455,1085,1440,1080,1445];
const fakeG = [70,340,82,333,68,375,74,390,170,368,350,372,380,345,390,342,420,350,440,345,405,373,345,392,290,400,500,385,528,380,495,410,528,408,585,380,430,328,598,328,643,352,660,328,675,367,675,392,700,330,725,345,745,325,717,340,832,365,817,378,825,388,767,405,782,398,932,367,945,365,1003,372,1023,375,1040,390,1050,400,1065,388,1090,358,1085,370,1060,400,1150,385,1145,405,1180,403,1190,355,1250,340,1285,345,1288,390,1420,354,1447,357,1472,397,1440,402,1520,375,1560,372,1465,398,1438,440,1428,448,1450,475,1495,430,428,424,368,437,362,443,601,423,604,438,662,430,677,458,1018,427,1048,457,1285,425,1308,431,1265,448,1278,465,1505,473,1525,465,1550,460,170,470,175,494,150,500,208,497,220,510,290,492,290,520,302,533,180,533,185,555,180,565,215,567,252,562,258,578,255,600,268,622,272,638,320,575,317,585,393,582,368,592,378,480,410,508,450,477,513,483,545,467,613,500,607,533,703,495,630,548,620,580,630,607,645,603,658,573,695,580,697,590,750,605,775,537,775,560,1347,478,1218,510,1268,527,1285,538,1330,520,1380,538,1375,548,1128,568,1158,588,1180,578,1210,565,1228,562,1438,528,1530,540,1428,570,1497,565,1510,545,1517,577,1088,612,1140,625,1160,614,1370,600,1313,616,1413,622,1143,648,1188,668,1220,635,1247,644,1232,672,1305,670,1358,652,1388,670,1418,663,1390,690,1366,692,1460,655,1462,672,1485,667,1505,685,1520,705,1535,700,1292,702,1427,695,1480,725,1330,720,1342,723,1433,745,1520,740,1320,750,1384,760,1172,730,1200,750,1213,752,1200,772,1173,773,1232,785,1287,778,1340,785,1537,782,1400,798,1430,810,1455,810,1478,810,1560,793,1328,818,1435,820,1187,808,1242,832,1273,845,1265,855,1260,865,1138,863,1187,838,1210,866,1228,876,1245,885,1260,895,1430,855,1430,848,1367,897,1388,893,1412,910,1428,910,1473,927,1500,925,1565,905,1522,940,1530,955,1515,965,1518,978,1342,945,1412,970,1508,1020,1490,1040,1510,1035,1523,1065,1520,1075,1493,1082,1550,1078,1565,1107,1428,1032,1438,1028,1242,1057,1250,1067,1132,1072,1182,1035,1228,1005,1240,1005,1258,1005,1005,1105,963,1132,1538,1188,1438,1212,1415,1222,1405,1225,1385,1225,1375,1230,850,1072,875,1065,890,1067,678,1127,726,1060,635,1083,765,1005,782,990,680,1003,668,985,432,1010,422,974,456,976,330,967,450,943,530,948,582,957,568,915,532,918,530,950,686,905,710,918,738,908,752,896,760,870,780,865,828,895,745,878,348,890,375,888,390,888,408,880,268,870,290,850,350,848,365,847,280,917,332,922,350,922,650,838,605,840,697,818,745,833,804,833,710,795,730,775,755,760,738,760,787,740,787,745,868,773,564,816,472,762,530,775,560,755,560,765,640,718,648,737,612,770,470,683,430,703,435,735,458,720,418,688,530,685,565,672,578,688,515,662,500,642,492,633,580,597,592,608,630,607,705,625,708,640,668,636,657,658,430,665,372,668,368,660,338,683,330,640,235,660,255,675,222,693,203,712,227,742,250,733,265,733,293,738,272,748,325,760,330,770,260,777,233,775,293,778,338,780,255,810,262,830,300,803,320,805,330,825,350,805,203,775,120,757,105,763,100,770,290,850,265,830,1037,935,983,733,1000,740,1072,777,1083,800,1090,810,1098,822];
const realH = [1305,90,1160,115,1150,118,1120,147,1045,45,1010,45,1005,62,1000,88,1080,110,895,113,845,135,980,155,1215,187,1275,197,1275,218,1200,210,1170,230,1200,225,1225,232,1245,240,1260,245,1260,262,1240,255,1220,265,1210,278,1290,250,1280,297,1055,185,1080,190,1070,210,1078,230,1060,235,1105,235,1100,255,1050,275,1145,285,1020,245,1000,205,915,200,895,220,875,230,830,195,1040,310,1000,360,985,375,945,375,880,370,825,360,830,355,1000,355,1035,340,1060,340,1120,325,1125,355,1155,345,1135,365,1230,337,1225,370,1250,392,1280,378,1105,390,1115,405,1135,405,1145,412,1155,430,1180,390,1190,435,1220,460,1205,480,1200,510,1215,515,1235,470,1300,465,1330,468,1405,465,1315,420,1305,488,1095,508,1128,495,1300,555,1330,575,1285,588,1265,580,1237,595,1268,605,1280,625,1295,625,1318,637,1225,540,1005,542,985,548,970,540,960,565,985,565,985,600,1000,550,917,510,890,545,915,540,815,560,775,470,795,470,900,410,1320,680,1320,712,1240,782,1405,465,965,858,1040,875,965,895,970,915,850,850,1230,905,1222,918,1172,938,1182,950,1187,968,1215,982,1185,990,1165,995,1145,997,1115,982,1078,990,1102,1010,1160,1010,1145,1033,1165,1033,1210,1010,1235,1045,925,1033,975,960,1012,1100,1005,1108,835,1155,850,1150,850,1165,820,1120,995,1148,855,1252,958,1262,835,1365,760,1438,780,1438,800,1450,460,1462,475,1438,495,1385,405,1395,345,1440,355,1445,240,1300,270,1478,330,1455,125,1520,150,1535,45,1445,130,1395,140,1410,185,1375,190,1205,125,1215,165,1250,200,1275,100,1330,120,1333,60,1345,15,1390,65,1395,235,1325,250,1300,305,1290,370,1290,390,1320,405,1395,420,1222,300,1110,480,1190,400,1075,490,1105,475,1105,530,920,430,935,370,920,470,975,435,985,490,970,540,1030,665,1005,575,960,650,975,670,975,695,1060,720,1050,750,1040,735,1085,800,1075,765,1090,660,1090,680,1135,710,1135,745,1200,750,1210,735,1230,715,1230,700,1255,680,1200,640,1145,620,1140,625,1070,605,1060,565,1030,575,1065,590,1085,570,1040,550,1080,540,1055,530,1040,610,1060,650,985,620,975,115,1190,122,1167,38,1170,58,1190,10,1193,15,1280,135,1272,165,1253,178,1295,238,1325,305,1290,370,1292,100,1330,50,1350,60,1395,188,1375,188,1410,330,1355,316,1412,490,1385,442,1325,475,1320,448,1370,210,1470,248,1495,275,1425,300,1430,358,1445,225,862,200,893,228,925,108,925,60,918,20,900,12,868,375,850,408,855,285,985,280,960,345,977,320,918,390,920,430,935,437,978,448,997,70,968,195,975,165,982,348,1027,435,1040,415,1068,360,1100,155,1060,185,1082,92,1080,95,1110,135,1108,155,1115,220,1145,210,1115,320,1140,740,79,678,105,625,167,500,193,490,222,478,276,545,285,565,292,443,300,470,307,490,305,505,315,505,325,450,343,495,350,517,343,595,365,635,320,635,330,725,335,725,350,712,395,715,415,720,430,710,440,500,422,448,448,460,470,640,495,730,525,122,1657,115,1660];
const fakeH = [1418,409,1345,155,1303,90,1146,65,1032,62,962,103,1025,107,1037,133,1085,130,1072,150,978,185,950,182,940,207,903,238,898,155,908,168,830,162,850,160,830,200,850,215,990,230,1020,215,1075,285,1090,298,1130,280,1145,275,990,275,1020,275,875,282,930,278,825,260,1345,332,1268,348,1325,395,1345,385,1358,378,1295,410,1250,420,1230,428,1210,430,1200,405,1170,450,1187,455,1102,430,1085,458,1005,405,1048,432,1010,430,985,430,960,432,960,455,990,450,1015,460,1005,480,990,500,965,507,1290,530,1305,565,1240,555,1185,555,1272,545,1365,445,1345,458,1380,490,1355,510,1390,540,1397,553,1365,597,1372,600,1250,475,1260,507,1180,515,1130,515,1143,527,1250,472,1105,570,1120,577,1115,555,1065,563,1050,560,1012,572,950,592,967,580,960,618,1040,608,1070,612,1075,625,1075,640,1078,655,1078,675,1070,698,1110,610,1165,625,1155,630,1147,645,1180,658,1215,705,1140,715,1110,740,1070,735,1030,740,1020,747,1098,772,1092,790,1095,800,990,808,1170,815,1227,800,1045,845,1048,858,1200,855,1255,892,1230,890,1198,908,1090,918,1230,938,965,888,892,888,940,925,808,913,862,897,835,887,850,865,1010,660,1008,675,1008,688,978,688,970,703,925,632,925,665,930,650,905,685,905,685,832,648,808,660,800,665,742,672,757,730,805,736,895,545,865,575,870,562,895,620,925,630,818,553,822,550,790,500,810,490,830,515,850,518,858,527,895,460,895,470,868,482,815,465,810,490,920,482,965,510,975,490,1000,480,1005,470,875,285,875,320,880,318,825,318,815,337,895,337,950,320,958,322,1010,325,1030,370,1065,345,1070,323,1060,370,1060,385,1105,340,765,305,755,305,720,323,845,437,787,410,755,445,670,440,555,535,1035,545,738,543,725,535,705,535,640,500,655,518,600,485,570,495,583,520,585,530,515,572,490,530,470,545,437,555,615,590,598,560,555,562,572,597,615,590,660,555,680,598,695,595,640,620,645,628,595,630,595,645,555,635,530,655,480,640,400,640,405,640,395,660,435,660,620,668,625,680,630,700,680,655,665,695,640,695,605,710,575,705,568,710,555,695,545,712,520,690,420,700,385,712,405,730,400,750,435,745,445,770,415,780,450,795,420,807,495,810,510,810,520,765,525,770,545,755,565,780,625,770,625,795,660,792,670,810,665,742,690,755,690,790,600,850,580,860,600,875,620,888,690,905,745,890,762,885,705,830,730,845,680,850,680,860,545,850,475,825,410,830,380,850,400,850,445,870,430,870,460,900,480,895,390,908,435,920,310,885,600,910,600,925,610,940,660,940,650,945,515,955,510,965,530,935,410,1040,390,1030,360,1040,380,1055,435,1130,415,1130,525,1055,495,1055,455,1050,545,1065,605,1050,600,1065,640,1065,670,1035,655,1085,690,1095,690,1085,640,1100,595,1105,520,1115,690,1130,715,1025,725,1030,750,1045,760,1110,790,1057,800,1055,810,1135,880,1115,865,1130,810,1160,810,1180,730,1160,715,1150,680,1138,670,1175,655,1180,600,1160,600,1138,565,1135,470,1158,510,1160,560,1185,575,1180,545,1205,520,1220,490,1200,435,1200,430,1230,470,1230,410,1112,320,1080,280,1105,325,1250,310,1250,585,1230,575,1250,565,1265,600,1250,625,1240,640,1240,655,1265,650,1300,720,1150,665,1215,730,1260,670,1290,600,1385,575,1390,595,1420,600,1430,520,1385,520,1315,510,1310,540,1290,595,1310,420,1360,425,1345,405,1300,385,1345,330,1320,345,1310,340,1345,320,1355,400,1335,385,1365,355,1385,370,1310,300,1270,265,1295,250,1290,225,1260,210,1305,150,1295,340,1395,315,1390,385,1385,255,1390,245,1425,220,1450,250,1460,275,1450,310,1480,330,1480,670,1490,665,1370,668,1478,310,1315,510,1265,570,1270,595,1445,573,1455,450,1470,490,1475,420,1345,115,1300,135,1350,240,1350,100,1310,180,1335,165,1345,160,1365,95,1385,140,1390,178,1408,230,1430,250,1332,278,1342,305,1345,348,1345,297,1362,330,1362,255,1390,268,1412,315,1388,348,1392,95,1440,135,1442,98,1465,290,1450,270,1460,250,1478,320,1478,388,1450,448,1472,490,1472,310,1545,90,1225,110,1265,225,1260,283,1240,335,1232,355,1240,375,1250,398,1265,410,1275,420,1305,245,1295,290,1290,400,1335,425,1355,183,1305,120,992,128,1005,225,997,218,1018,385,993,390,1022,285,1030,360,1040,135,1040,193,1030,242,1040,320,1047,105,1065,205,1065,233,1080,268,1075,290,1070,325,1080,380,1080,155,1100,185,1100,280,1105,365,1125,262,1130,155,1130,210,1128,88,1135,115,1143,178,940,250,948,298,960,185,733,180,750,233,727,248,768,285,767,160,786,205,840,190,857,275,838,275,888,305,867,315,912,350,925,370,938,390,908,378,850,410,830,474,133,470,178,510,188,535,178,553,185,610,228,675,235,728,231,510,273,535,267,582,278,640,290,555,327,720,323,755,303,472,376,540,372,550,362,597,395,550,432,565,437,585,435,600,430,620,428,670,440,787,408,488,468,500,475,440,478,572,495,645,497];
const realLeftFoot = [360,35,555,5,395,100,143,115,515,72,762,72,465,158,410,210,455,205,510,240,675,235,795,268,142,272,290,345,305,342,900,208,1045,175,1070,155,1090,155,880,408,720,448,545,385,570,385,510,398,550,450,590,470,785,460,790,490,765,498,595,555];
const fakeLeftFoot = [268,25,338,12,185,52,215,48,343,72,405,72,472,70,580,88,630,60,637,68,612,15,655,0,695,20,835,0,892,0,145,115,288,103,390,122,577,128,720,115,755,100,778,112,748,135,877,105,975,118,990,130,1105,112,535,150,540,165,480,165,393,192,450,195,435,222,510,220,522,222,630,228,645,225,645,258,636,293,495,278,515,288,535,295,333,333,575,345,415,397,632,405,505,428,533,418,660,435,690,447,700,465,916,316,912,365,935,363,885,490,825,510,715,525,752,532,765,575,597,543];
const realUpperRight = [8,304];
const fakeUpperRight = [343,190,190,325];

const seriesNames = ["real", "fake"];

// Origin (in reference pixels) and scale of each enlarged crop the lists above were read from,
// and the part of the crop each list is responsible for, so overlapping crops are not doubled.
type Frame = { ox: number; oy: number; sx: number; sy: number; keep?: (x: number, y: number) => boolean };
const cropFrames: Record<string, Frame> = {
  A: { ox: 100, oy: 180, sx: 1.742, sy: 1.742 },
  B: { ox: 1000, oy: 180, sx: 1.742, sy: 1.742 },
  D: { ox: 1800, oy: 600, sx: 1.742, sy: 1.742, keep: (x) => x > 174 },
  E: { ox: 100, oy: 1080, sx: 1.742, sy: 1.742 },
  F: { ox: 1000, oy: 1080, sx: 1.742, sy: 1.742 },
  G: { ox: 800, oy: 1750, sx: 1.742, sy: 1.742, keep: (x, y) => y > 401 && x < 1568 },
  H: { ox: 1650, oy: 1500, sx: 1.742, sy: 1.568, keep: (x, y) => (y < 752 ? x > 435 : x > 87) },
  C: { ox: 420, oy: 1960, sx: 3, sy: 3, keep: (_x, y) => y > 60 },
  I: { ox: 1900, oy: 500, sx: 3, sy: 3 },
};

function place(list: number[], frameName: string): number[][] {
  const f = cropFrames[frameName];
  const out: number[][] = [];
  for (let i = 0; i + 1 < list.length; i += 2) {
    if (f.keep && !f.keep(list[i], list[i + 1])) continue;
    out.push([f.ox + list[i] / f.sx, f.oy + list[i + 1] / f.sy]);
  }
  return out;
}

const realPoints = [...place(realA, "A"), ...place(realB, "B"), ...place(realD, "D"), ...place(realE, "E"), ...place(realF, "F"), ...place(realG, "G"), ...place(realH, "H"), ...place(realLeftFoot, "C"), ...place(realUpperRight, "I")];
const fakePoints = [...place(fakeA, "A"), ...place(fakeB, "B"), ...place(fakeD, "D"), ...place(fakeE, "E"), ...place(fakeF, "F"), ...place(fakeG, "G"), ...place(fakeH, "H"), ...place(fakeLeftFoot, "C"), ...place(fakeUpperRight, "I")];

export default function App() {
  const ref = useRef<HTMLDivElement>(null);
  useEffect(() => {
    const chart = echarts.init(ref.current!, undefined, { renderer: "svg" });
    const style = (c: string) => ({ color: `rgba(${c},0.75)`, borderColor: `rgba(${c},0.75)`, borderWidth: 2, opacity: 1 });
    chart.setOption({
      animation: false,
      backgroundColor: "#fff",
      grid: { left: 0, right: 0, top: 0, bottom: 0 },
      xAxis: { type: "value", min: 0, max: 2800, show: false },
      yAxis: { type: "value", min: 0, max: 2800, inverse: true, show: false },
      graphic: [{ type: "rect", z: 20, shape: { x: 1993, y: 93, width: 716, height: 403, r: 20 }, style: { fill: "rgba(255,255,255,0.8)", stroke: "rgba(204,204,204,0.8)", lineWidth: 3 } }],
      legend: {
        z: 30, left: 2135, top: 114, orient: "vertical", itemWidth: 53, itemHeight: 53, itemGap: 33, icon: "circle",
        data: seriesNames,
        textStyle: { fontFamily: "DejaVu Sans", fontSize: 125, color: "#000", lineHeight: 150, padding: [0, 0, 0, 192] },
      },
      series: [
        { name: seriesNames[0], type: "scatter", symbolSize: 13, large: false, data: realPoints, itemStyle: style("255,0,0") },
        { name: seriesNames[1], type: "scatter", symbolSize: 13, large: false, data: fakePoints, itemStyle: style("0,0,255") },
      ],
    });
    return () => chart.dispose();
  }, []);
  return <div ref={ref} style={{ width: 2800, height: 2800, marginLeft: -8, marginTop: -8 }} />;
}
